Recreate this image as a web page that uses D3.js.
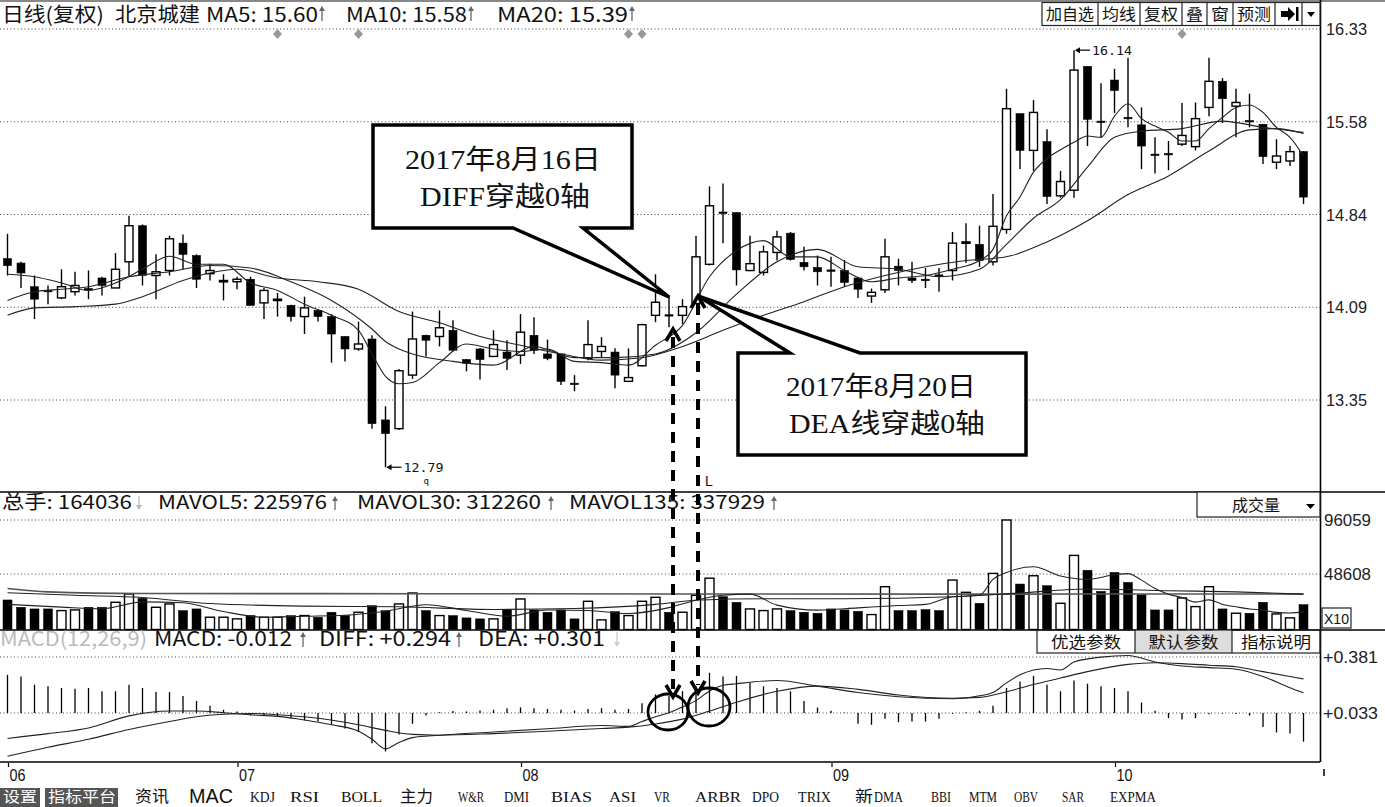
<!DOCTYPE html>
<html><head><meta charset="utf-8">
<script src="https://cdn.jsdelivr.net/npm/d3@7"></script>
<style>
body{margin:0;background:#fff;}
svg{display:block;}
</style></head><body>
<svg id="c" width="1385" height="807"></svg>
<script>
// ---------- DATA ----------
const opens=[14.485,14.45,14.26,14.23,14.17,14.22,14.245,14.33,14.25,14.46,14.75,14.35,14.39,14.61,14.51,14.365,14.31,14.30,14.32,14.13,14.16,14.11,14.02,14.07,14.02,13.86,13.76,13.84,13.19,13.12,13.55,13.87,13.86,13.91,13.675,13.76,13.70,13.735,13.71,13.87,13.72,13.72,13.485,13.685,13.74,13.735,13.50,13.625,14.03,14.035,14.03,14.125,14.44,14.86,14.855,14.39,14.375,14.535,14.69,14.455,14.415,14.395,14.39,14.33,14.185,14.235,14.425,14.33,14.32,14.355,14.39,14.62,14.60,14.46,14.72,15.65,15.355,15.425,14.99,15.035,16.03,15.59,15.92,15.62,15.56,15.325,15.33,15.405,15.385,15.70,15.91,15.71,15.595,15.565,15.26,15.27,15.345];
const highs=[14.685,14.46,14.35,14.27,14.40,14.38,14.39,14.34,14.53,14.83,14.76,14.52,14.67,14.68,14.52,14.445,14.36,14.34,14.34,14.25,14.21,14.115,14.18,14.075,14.04,13.86,13.98,13.87,13.30,13.60,14.06,13.875,14.07,13.99,13.68,13.765,13.91,13.83,14.04,14.015,13.835,13.72,13.55,13.99,13.855,13.765,13.765,13.962,14.36,14.19,14.16,14.67,15.066,15.09,14.86,14.67,14.59,14.71,14.70,14.58,14.51,14.50,14.475,14.34,14.245,14.645,14.485,14.46,14.41,14.41,14.70,14.77,14.75,15.005,15.85,15.65,15.76,15.525,15.19,16.16,16.03,15.895,16.01,16.10,15.70,15.46,15.43,15.735,15.74,16.10,15.935,15.85,15.81,15.565,15.445,15.39,15.35];
const lows=[14.35,14.25,14.00,14.12,14.16,14.19,14.16,14.19,14.25,14.34,14.27,14.16,14.35,14.40,14.25,14.31,14.15,14.24,14.11,14.00,14.02,13.98,13.88,13.98,13.65,13.66,13.745,13.12,12.81,13.11,13.52,13.70,13.78,13.74,13.58,13.515,13.695,13.59,13.64,13.72,13.67,13.47,13.42,13.67,13.695,13.445,13.50,13.62,13.975,13.935,13.96,14.12,14.43,14.61,14.27,14.385,14.35,14.47,14.47,14.39,14.27,14.26,14.26,14.17,14.13,14.21,14.27,14.29,14.25,14.22,14.31,14.45,14.42,14.43,14.685,15.205,15.19,14.925,14.975,14.975,15.39,15.455,15.655,15.54,15.205,15.17,15.195,15.39,15.355,15.63,15.575,15.46,15.54,15.245,15.205,15.23,14.925];
const closes=[14.43,14.37,14.16,14.225,14.26,14.27,14.24,14.27,14.40,14.75,14.35,14.38,14.645,14.52,14.32,14.39,14.31,14.32,14.11,14.23,14.16,14.02,14.09,14.02,13.88,13.76,13.80,13.16,13.08,13.585,13.84,13.83,13.93,13.75,13.645,13.675,13.795,13.685,13.895,13.75,13.685,13.50,13.48,13.795,13.78,13.55,13.53,13.955,14.135,14.03,14.10,14.50,14.91,14.855,14.395,14.445,14.54,14.66,14.48,14.42,14.38,14.39,14.295,14.24,14.215,14.50,14.39,14.31,14.315,14.35,14.61,14.62,14.47,14.745,15.69,15.355,15.66,14.985,15.105,16.00,15.605,15.585,15.835,15.61,15.39,15.32,15.325,15.475,15.61,15.91,15.77,15.74,15.59,15.305,15.31,15.345,14.98];
const ma5Pts=[[0,14.36],[2,14.34],[4,14.29],[6,14.23],[8,14.29],[10,14.40],[12,14.505],[14,14.44],[16,14.44],[18,14.29],[20,14.23],[22,14.12],[24,14.03],[26,13.91],[27,13.72],[28,13.54],[29,13.48],[30,13.49],[32,13.65],[34,13.80],[36,13.76],[38,13.74],[40,13.76],[42,13.66],[44,13.65],[46,13.63],[48,13.79],[50,13.95],[52,14.34],[54,14.55],[56,14.63],[58,14.50],[60,14.50],[62,14.39],[64,14.30],[66,14.33],[68,14.35],[70,14.40],[72,14.47],[73,14.56],[74,14.83],[75,14.98],[76,15.18],[77,15.29],[78,15.36],[79,15.42],[80,15.47],[81,15.46],[82,15.63],[83,15.73],[84,15.61],[85,15.55],[86,15.50],[87,15.43],[88,15.43],[89,15.53],[90,15.62],[91,15.70],[92,15.72],[93,15.66],[94,15.54],[95,15.46],[96,15.31]];
const ma10Pts=[[0,14.15],[2,14.22],[4,14.24],[6,14.26],[9,14.34],[12,14.38],[15,14.43],[18,14.41],[21,14.30],[24,14.15],[27,13.92],[28,13.82],[29,13.76],[30,13.72],[33,13.66],[36,13.63],[39,13.78],[42,13.69],[45,13.69],[48,13.72],[51,13.89],[54,14.20],[57,14.46],[60,14.56],[63,14.42],[66,14.40],[69,14.34],[72,14.40],[74,14.60],[76,14.81],[78,14.96],[80,15.22],[82,15.46],[84,15.51],[87,15.53],[90,15.59],[93,15.54],[96,15.50]];
const ma20Pts=[[0,14.03],[2,14.09],[5,14.10],[8,14.12],[10,14.18],[13,14.31],[15,14.37],[17,14.40],[20,14.33],[23,14.30],[26,14.24],[29,14.06],[32,13.97],[35,13.86],[38,13.79],[41,13.72],[44,13.67],[47,13.69],[50,13.78],[53,13.91],[56,14.03],[59,14.14],[62,14.26],[65,14.35],[68,14.42],[71,14.47],[74,14.50],[77,14.62],[80,14.79],[83,15.00],[86,15.15],[89,15.35],[92,15.52],[94,15.53],[96,15.49]];
const volumes=[25908,19504,18048,18048,16593,17175,19504,19504,23870,31148,27363,19504,22415,16593,18048,10771,10771,9315,12226,10771,10771,12226,12226,10771,15137,12226,15137,20959,16593,22415,32021,16593,12226,12226,10189,9315,9315,17175,26781,17175,15137,17175,9315,24744,8442,15719,12226,24744,28237,15137,15137,30000,45000,28820,23870,18048,16593,18048,16593,15137,14264,18048,17175,16011,13100,37552,16593,16593,17466,16593,43374,32603,22997,49196,96059,39881,47158,38425,22997,65000,52000,33477,50069,41336,30566,17175,17175,27655,20086,37552,18048,14264,14264,23870,13682,10189,21833];
const mavol5Pts=[[0,22000],[4,19620],[7,18165],[10,24278],[13,23405],[16,15720],[19,10771],[22,11644],[25,12517],[28,16010],[31,21716],[34,16651],[37,11644],[40,17117],[43,16709],[46,14089],[49,19213],[51,25700],[53,30000],[55,31000],[57,21400],[60,17000],[63,19000],[66,21000],[68,22000],[70,28700],[72,30000],[73,44000],[74,50000],[76,55000],[78,47000],[80,44000],[82,48000],[83,49000],[84,43300],[85,36000],[86,31000],[87,28000],[88,24000],[89,26000],[90,22000],[91,19900],[92,18000],[93,17000],[94,15000],[95,14500],[96,15500]];
const mavol30Pts=[[0,32200],[5,30000],[10,28100],[15,22800],[22,20500],[29,19900],[36,17600],[42,18400],[48,22000],[51,25700],[56,27000],[62,27000],[70,28700],[75,32000],[80,35500],[86,34000],[91,33000],[96,31000]];
const mavol135Pts=[[0,35900],[3,33000],[10,31600],[30,31400],[50,31200],[70,31000],[90,31200],[96,31000]];
const macdHist=[0.237,0.227,0.176,0.166,0.156,0.150,0.156,0.135,0.135,0.176,0.156,0.13,0.13,0.105,0.075,0.045,0.02,0.01,-0.016,-0.016,-0.02,-0.032,-0.046,-0.053,-0.073,-0.097,-0.117,-0.188,-0.239,-0.134,-0.067,-0.016,0.005,0.012,0.01,0.015,0.02,0.03,0.035,0.03,0.025,0.02,0.015,0.025,0.03,0.02,0.025,0.06,0.115,0.105,0.136,0.166,0.25,0.227,0.231,0.186,0.166,0.156,0.135,0.075,0.034,0.014,0.003,-0.067,-0.073,-0.036,-0.057,-0.053,-0.053,-0.036,-0.006,0.005,0.014,0.045,0.156,0.196,0.231,0.176,0.135,0.202,0.182,0.166,0.156,0.135,0.065,0.014,-0.032,-0.04,-0.032,-0.008,-0.004,-0.006,-0.016,-0.087,-0.121,-0.127,-0.178];
const diffPts=[[0,-0.125],[3,-0.095],[6,-0.06],[9,0.015],[12,0.045],[14,0.045],[16,0.035],[18,0.022],[20,0.012],[22,-0.01],[24,-0.04],[26,-0.08],[27,-0.13],[28,-0.19],[29,-0.15],[30,-0.12],[32,-0.105],[36,-0.085],[40,-0.065],[44,-0.045],[46,-0.05],[47,-0.02],[48,0.01],[49,0.035],[50,0.07],[51,0.11],[52,0.17],[53,0.205],[54,0.215],[57,0.235],[60,0.20],[63,0.16],[66,0.134],[70,0.122],[72,0.14],[73,0.16],[74,0.22],[75,0.27],[77,0.31],[78,0.30],[79,0.35],[81,0.38],[83,0.39],[85,0.35],[87,0.325],[89,0.315],[91,0.305],[93,0.26],[95,0.19],[96,0.158]];
const deaPts=[[0,-0.236],[3,-0.18],[6,-0.13],[9,-0.07],[12,-0.02],[14,0.01],[16,0.025],[18,0.03],[20,0.022],[23,0.0],[26,-0.04],[28,-0.075],[30,-0.1],[32,-0.105],[36,-0.095],[40,-0.08],[44,-0.063],[46,-0.055],[48,-0.035],[50,-0.005],[52,0.045],[54,0.10],[57,0.168],[60,0.20],[63,0.18],[66,0.145],[70,0.125],[72,0.13],[74,0.165],[76,0.21],[78,0.25],[80,0.29],[83,0.335],[85,0.345],[87,0.34],[89,0.33],[91,0.32],[93,0.29],[95,0.26],[96,0.245]];
const priceTicks=[16.33,15.585,14.84,14.095,13.35];
const priceTickLabels=['16.33','15.58','14.84','14.09','13.35'];
const volTicks=[96059,48608];
const volTickLabels=['96059','48608'];
const macdTicks=[0.381,0.033];
const macdTickLabels=['+0.381','+0.033'];
const macdBase=0.033;
const xTickIdx=[0,17,38,61,82];
const xTickLabels=['06','07','08','09','10'];
const markerIdx=[20,26,46,47,87];
const highIdx=79, highLabel='16.14';
const lowIdx=28, lowLabel='12.79';
const crossIdx=[49,52];
const callout1=['2017年8月16日','DIFF穿越0轴'];
const callout2=['2017年8月20日','DEA线穿越0轴'];

// ---------- SCALES ----------
const svg=d3.select('#c');
const N=closes.length;
const x=d3.scaleLinear().domain([0,N-1]).range([7.5,1303.5]);
const yP=d3.scaleLinear().domain([13.35,16.33]).range([400,29]);
const yV=d3.scaleLinear().domain([0,96059]).range([629.5,520]);
const yM=d3.scaleLinear().domain([0.033,0.381]).range([713,657]);
const SANS='"Noto Sans CJK SC","Liberation Sans",sans-serif';

function T(px,py,s,o={}){const t=svg.append('text').attr('x',px).attr('y',py).text(s)
 .style('font-size',(o.fs||16)+'px').style('fill',o.fill||'#111').style('font-family',o.ff||SANS);
 if(o.anchor)t.attr('text-anchor',o.anchor);
 if(o.len)t.attr('textLength',o.len).attr('lengthAdjust','spacingAndGlyphs');
 if(o.fw)t.style('font-weight',o.fw); return t;}
function L(x1,y1,x2,y2,c='#000',w=1,da){const l=svg.append('line').attr('x1',x1).attr('y1',y1).attr('x2',x2).attr('y2',y2).attr('stroke',c).attr('stroke-width',w);if(da)l.attr('stroke-dasharray',da);return l;}
function arrowUp(ax,yt,yb,c){L(ax,yt+3,ax,yb,c,1.3);svg.append('path').attr('d',`M${ax-3},${yt+5}L${ax},${yt}L${ax+3},${yt+5}Z`).attr('fill',c);}
function arrowDown(ax,yt,yb,c){L(ax,yt,ax,yb-3,c,1.3);svg.append('path').attr('d',`M${ax-3},${yb-5}L${ax},${yb}L${ax+3},${yb-5}Z`).attr('fill',c);}

// ---------- FRAME ----------
svg.append('rect').attr('x',0).attr('y',0).attr('width',1385).attr('height',2).attr('fill','#888');
const dot='1,2.5';
const AX='"Liberation Sans",sans-serif';
priceTicks.forEach((t,k)=>{L(0,yP(t),1320,yP(t),'#444',1,dot);
  T(1326,yP(t)+6,priceTickLabels[k],{fs:17,len:41,ff:AX,fill:'#222'});});
volTicks.forEach((t,k)=>{L(0,yV(t),1320,yV(t),'#444',1,dot);
  T(1324,yV(t)+6,volTickLabels[k],{fs:17,len:47,ff:AX,fill:'#222'});});
macdTicks.forEach((t,k)=>{L(0,yM(t),1320,yM(t),'#444',1,dot);
  T(1323,yM(t)+6,macdTickLabels[k],{fs:17,len:55,ff:AX,fill:'#222'});});
L(0,492,1385,492,'#000',1.6);
L(0,630,1385,630,'#000',1.6);
L(0,762,1320,762,'#000',1.6);
L(1320.5,0,1320.5,762,'#000',1.6);
L(1324,769,1324,776,'#000',1.5);

// ---------- HEADERS ----------
T(2,22,'日线(复权)',{fs:20,len:102});
T(115,22,'北京城建',{fs:20,len:85});
T(206,22,'MA5: 15.60',{fs:20,len:112}); arrowUp(322,6,21,'#666');
T(346,22,'MA10: 15.58',{fs:20,len:121}); arrowUp(471,6,21,'#666');
T(497,22,'MA20: 15.39',{fs:20,len:131}); arrowUp(632,6,21,'#666');
const btnEdges=[1042,1098,1140,1182,1207,1233,1275,1302,1320];
svg.append('rect').attr('x',1042).attr('y',2.5).attr('width',278).attr('height',23).attr('fill','#fff').attr('stroke','#222').attr('stroke-width',1.2);
btnEdges.slice(1,-1).forEach(e=>L(e,2.5,e,25.5,'#222',1.2));
const btnLabels=['加自选','均线','复权','叠','窗','预测'];
btnLabels.forEach((s,k)=>T((btnEdges[k]+btnEdges[k+1])/2,20,s,{fs:16,anchor:'middle',len:btnEdges[k+1]-btnEdges[k]-8}));
svg.append('path').attr('d','M1281,11H1288V7L1295,14L1288,21V17H1281Z').attr('fill','#000');
svg.append('rect').attr('x',1296).attr('y',7).attr('width',2.5).attr('height',14).attr('fill','#000');
svg.append('path').attr('d','M1307,12L1315,12L1311,17Z').attr('fill','#000');
T(2,509,'总手: 164036',{fs:19,len:130}); arrowDown(139,496,510,'#bbb');
T(158,509,'MAVOL5: 225976',{fs:19,len:169}); arrowUp(335,496,510,'#666');
T(357,509,'MAVOL30: 312260',{fs:19,len:184}); arrowUp(551,496,510,'#666');
T(569,509,'MAVOL135: 337929',{fs:19,len:196}); arrowUp(774,496,510,'#666');
svg.append('rect').attr('x',1197).attr('y',492).attr('width',123).attr('height',25).attr('fill','#fff').attr('stroke','#222').attr('stroke-width',1.2);
T(1256,511,'成交量',{fs:16,anchor:'middle',len:48});
svg.append('path').attr('d','M1306,504L1315,504L1310.5,509Z').attr('fill','#000');
svg.append('rect').attr('x',1322).attr('y',608).attr('width',29).attr('height',20).attr('fill','#fff').attr('stroke','#222').attr('stroke-width',1.2);
T(1324,624,'X10',{fs:15,len:25,ff:AX});
T(0,646,'MACD(12,26,9)',{fs:20,len:147,fill:'#bbb'});
T(154,646,'MACD: -0.012',{fs:20,len:138}); arrowUp(303,632,647,'#666');
T(319,646,'DIFF: +0.294',{fs:20,len:132}); arrowUp(459,632,647,'#666');
T(478,646,'DEA: +0.301',{fs:20,len:127}); arrowDown(617,632,647,'#ccc');
const mbEdges=[1037,1135,1232,1320];
svg.append('rect').attr('x',1135).attr('y',630).attr('width',97).attr('height',23).attr('fill','#ddd');
svg.append('rect').attr('x',1037).attr('y',630).attr('width',283).attr('height',23).attr('fill','none').attr('stroke','#222').attr('stroke-width',1.2);
mbEdges.slice(1,-1).forEach(e=>L(e,630,e,653,'#222',1.2));
['优选参数','默认参数','指标说明'].forEach((s,k)=>T((mbEdges[k]+mbEdges[k+1])/2,648,s,{fs:16,anchor:'middle',len:70}));

markerIdx.forEach(i=>svg.append('path').attr('d',`M${x(i)},${29}L${x(i)+4.5},${34}L${x(i)},${39}L${x(i)-4.5},${34}Z`).attr('fill','#999'));

// ---------- CANDLES ----------
const cg=svg.append('g');
d3.range(N).forEach(i=>{
  const o=opens[i],c=closes[i],up=c>=o;
  cg.append('line').attr('x1',x(i)).attr('x2',x(i)).attr('y1',yP(highs[i])).attr('y2',yP(lows[i])).attr('stroke','#000').attr('stroke-width',1.4);
  const top=yP(Math.max(o,c)),h=Math.max(1.4,Math.abs(yP(o)-yP(c)));
  cg.append('rect').attr('x',x(i)-4).attr('y',top).attr('width',8).attr('height',h)
    .attr('fill',up?'#fff':'#000').attr('stroke','#000').attr('stroke-width',up?1.4:0.6);
});
const lineP=d3.line().x(d=>x(d[0])).y(d=>yP(d[1])).curve(d3.curveMonotoneX);
[ma5Pts,ma10Pts,ma20Pts].forEach(p=>svg.append('path').attr('d',lineP(p)).attr('fill','none').attr('stroke','#222').attr('stroke-width',1.1));
const MONO='"DejaVu Sans Mono",monospace';
{const hx=x(highIdx),hy=yP(highs[highIdx]);
 L(hx+2,hy,hx+16,hy,'#000',1.2);svg.append('path').attr('d',`M${hx+1},${hy}L${hx+6},${hy-3}L${hx+6},${hy+3}Z`).attr('fill','#000');
 T(hx+18,hy+5,highLabel,{fs:13,ff:MONO,len:40});}
{const lx=x(lowIdx),ly=yP(lows[lowIdx]);
 L(lx+2,ly,lx+16,ly,'#000',1.2);svg.append('path').attr('d',`M${lx+1},${ly}L${lx+6},${ly-3}L${lx+6},${ly+3}Z`).attr('fill','#000');
 T(lx+18,ly+5,lowLabel,{fs:13,ff:MONO,len:40});
 T(lx+38,ly+17,'q',{fs:9,ff:MONO});}

// ---------- VOLUME ----------
d3.range(N).forEach(i=>{const up=closes[i]>=opens[i];
  svg.append('rect').attr('x',x(i)-4.5).attr('y',yV(volumes[i])).attr('width',9).attr('height',yV(0)-yV(volumes[i]))
   .attr('fill',up?'#fff':'#000').attr('stroke','#000').attr('stroke-width',up?1.4:0.5);});
const lineV=d3.line().x(d=>x(d[0])).y(d=>yV(d[1])).curve(d3.curveMonotoneX);
svg.append('path').attr('d',lineV(mavol135Pts)).attr('fill','none').attr('stroke','#555').attr('stroke-width',1.6);
svg.append('path').attr('d',lineV(mavol30Pts)).attr('fill','none').attr('stroke','#222').attr('stroke-width',1.1);
svg.append('path').attr('d',lineV(mavol5Pts)).attr('fill','none').attr('stroke','#222').attr('stroke-width',1.1);

// ---------- MACD ----------
macdHist.forEach((m,i)=>L(x(i),yM(macdBase),x(i),yM(macdBase+m),'#000',1.3));
const lineM=d3.line().x(d=>x(d[0])).y(d=>yM(d[1])).curve(d3.curveMonotoneX);
svg.append('path').attr('d',lineM(diffPts)).attr('fill','none').attr('stroke','#222').attr('stroke-width',1.1);
svg.append('path').attr('d',lineM(deaPts)).attr('fill','none').attr('stroke','#222').attr('stroke-width',1.1);

// ---------- X AXIS ----------
xTickIdx.forEach((i,k)=>{const px=Math.max(2,x(i)+1);L(px,763,px,767,'#000',1.2);
  T(px+1,781,xTickLabels[k],{fs:16,ff:AX,len:16});});
const SERIF='"Liberation Serif",serif';
svg.append('rect').attr('x',0).attr('y',788).attr('width',40).attr('height',19).attr('fill','#555');
svg.append('rect').attr('x',45).attr('y',788).attr('width',73).attr('height',19).attr('fill','#555');
T(3,802,'设置',{fs:15,fill:'#fff',len:34});
T(48,802,'指标平台',{fs:15,fill:'#fff',len:68});
T(135,802,'资讯',{fs:16,len:34});
T(189,803,'MAC',{fs:20,len:44,ff:AX});
const tb=[['KDJ',250,25],['RSI',290,29],['BOLL',341,41],['W&R',458,26],['DMI',504,25],['BIAS',551,41],['ASI',609,27],['VR',654,16],['ARBR',695,46],['DPO',752,27],['TRIX',798,33],['BBI',931,20],['MTM',969,28],['OBV',1014,24],['SAR',1062,22],['EXPMA',1110,46]];
tb.forEach(d=>T(d[1],802,d[0],{fs:15,ff:SERIF,len:d[2]}));
T(400,802,'主力',{fs:16,len:33});
T(855,802,'新',{fs:16,len:18}); T(874,802,'DMA',{fs:15,ff:SERIF,len:29});

// ---------- ANNOTATIONS ----------
const c1x=x(crossIdx[0])+4, c2x=x(crossIdx[1])-11.5;
svg.append('path').attr('d',`M373,125H632V228H583L669,297L513,228H373Z`).attr('fill','#fff').attr('stroke','#000').attr('stroke-width',3.5).attr('stroke-linejoin','miter');
svg.append('path').attr('d',`M738,353H790L698,296L860,353H1026V455H738Z`).attr('fill','#fff').attr('stroke','#000').attr('stroke-width',3.5).attr('stroke-linejoin','miter');
const sf='"Liberation Serif","Noto Sans CJK SC",serif';
T(503,169,callout1[0],{fs:27,anchor:'middle',ff:sf,len:196});
T(505,206,callout1[1],{fs:27,anchor:'middle',ff:sf,len:170});
T(881,396,callout2[0],{fs:27,anchor:'middle',ff:sf,len:190});
T(887,433,callout2[1],{fs:27,anchor:'middle',ff:sf,len:196});
[[c1x,329,697],[c2x,296,693]].forEach(a=>{
  L(a[0],a[1]+8,a[0],a[2]-8,'#000',4,'11,8');
  svg.append('path').attr('d',`M${a[0]-7},${a[1]+12}L${a[0]},${a[1]}L${a[0]+7},${a[1]+12}`).attr('fill','none').attr('stroke','#000').attr('stroke-width',3.5);
  svg.append('path').attr('d',`M${a[0]-7},${a[2]-12}L${a[0]},${a[2]}L${a[0]+7},${a[2]-12}`).attr('fill','none').attr('stroke','#000').attr('stroke-width',3.5);
});
svg.append('ellipse').attr('cx',668).attr('cy',712).attr('rx',20).attr('ry',18).attr('fill','none').attr('stroke','#000').attr('stroke-width',2.8);
svg.append('ellipse').attr('cx',709).attr('cy',707).attr('rx',21).attr('ry',19).attr('fill','none').attr('stroke','#000').attr('stroke-width',2.8);
T(705,486,'L',{fs:14,ff:AX});
</script></body></html>
